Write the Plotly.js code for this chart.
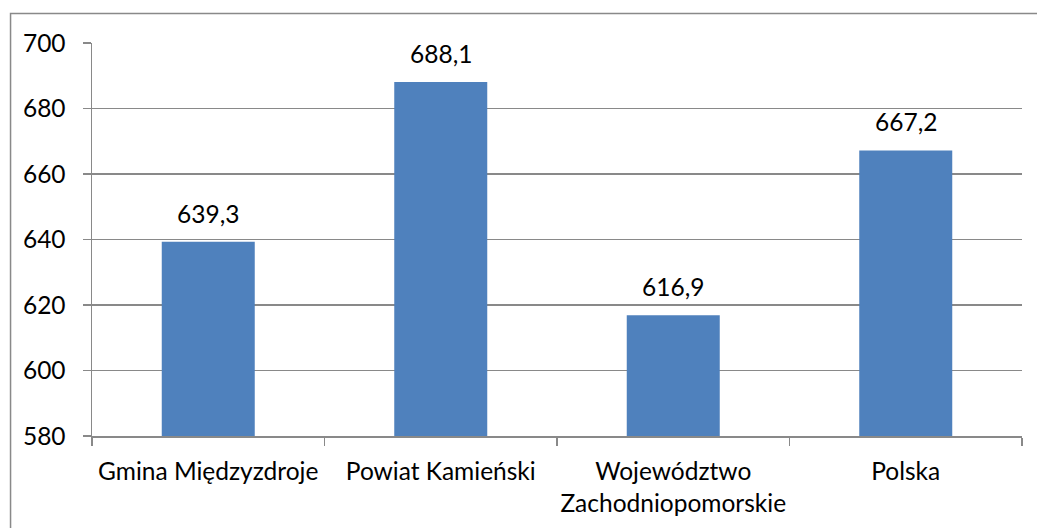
<!DOCTYPE html>
<html><head><meta charset="utf-8">
<script src="https://cdn.plot.ly/plotly-3.0.1.min.js"></script>
<style>html,body{margin:0;padding:0;background:#fff}#chart{width:1037px;height:528px}</style>
</head><body><div id="chart"></div>
<script>
const categories = ["Gmina Międzyzdroje", "Powiat Kamieński", "Województwo<br>Zachodniopomorskie", "Polska"];
const values = [639.3, 688.1, 616.9, 667.2];
const yTicks = [580, 600, 620, 640, 660, 680, 700];

const W = 1037, H = 528;
const L = 92, R = 1022.5, T = 42.5, B = 436.5;
const pw = R - L, ph = B - T;
const fx = x => (x - L) / pw, fy = y => (B - y) / ph;

const font = {family: "Lato, 'Open Sans', sans-serif", size: 24.5, color: "#000"};
const grey = "#898989";

Plotly.newPlot("chart", [{
  type: "bar",
  x: categories,
  y: values,
  marker: {color: "#4F81BD"},
  hoverinfo: "none"
}], {
  width: W, height: H,
  margin: {l: L, r: W - R, t: T, b: H - B, pad: 0},
  paper_bgcolor: "#fff", plot_bgcolor: "#fff",
  font: font,
  bargap: 0.6,
  showlegend: false,
  xaxis: {
    type: "category",
    tickson: "boundaries",
    tickangle: 0,
    ticks: "outside", ticklen: 8, tickcolor: grey, tickwidth: 1.5,
    showline: true, linecolor: grey, linewidth: 1.5,
    showgrid: false, zeroline: false,
    tickfont: font,
    ticklabelstandoff: 13
  },
  yaxis: {
    range: [580, 700],
    tickvals: yTicks,
    ticktext: yTicks.map(String),
    ticks: "outside", ticklen: 8, tickcolor: grey, tickwidth: 1.5,
    showline: true, linecolor: grey, linewidth: 1.5,
    showgrid: true, gridcolor: grey, gridwidth: 1.5,
    zeroline: false,
    tickfont: font,
    ticklabelstandoff: 12
  },
  annotations: categories.map((c, i) => ({
    x: c, y: values[i], xref: "x", yref: "y",
    text: values[i].toFixed(1).replace(".", ","),
    showarrow: false, yanchor: "bottom", yshift: 12,
    font: font
  })),
  shapes: [{
    type: "rect", xref: "paper", yref: "paper", layer: "below",
    x0: fx(10.5), x1: fx(1060), y0: fy(560), y1: fy(13),
    line: {color: grey, width: 1.5}, fillcolor: "rgba(0,0,0,0)"
  }]
}, {staticPlot: true, displayModeBar: false});
</script>
</body></html>
